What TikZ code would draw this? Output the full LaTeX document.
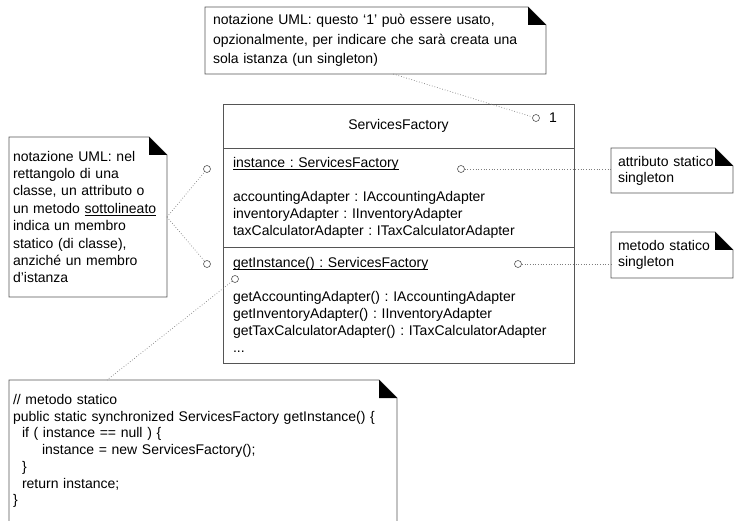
\documentclass[tikz,border=0pt]{standalone}
\usepackage{fontspec}
\setmainfont{Liberation Sans}
\usepackage{tikz}
\usetikzlibrary{positioning}
\usepackage{xcolor}
\definecolor{umlgray}{RGB}{85,85,85}
\definecolor{dotgray}{RGB}{125,125,125}
\frenchspacing

% underline at a fixed depth, as for static members
\newcommand{\staticul}[1]{\setbox0=\hbox{#1}\rlap{\rule[-2.5bp]{\wd0}{0.7bp}}\box0}
% note outline with the folded (black) corner
\newcommand{\notefold}[1]{%
  \draw[noteline] (#1.north west) -- ([xshift=-18bp]#1.north east)
    -- ([yshift=-18bp]#1.north east) -- (#1.south east) -- (#1.south west) -- cycle;
  \fill[black] ([xshift=-18bp]#1.north east) -- ([xshift=-18bp,yshift=-18bp]#1.north east)
    -- ([yshift=-18bp]#1.north east) -- cycle;}

\begin{document}
\begin{tikzpicture}[
      x=1bp, y=-1bp,
      every node/.style={font=\fontsize{14bp}{17bp}\selectfont},
      compart/.style={draw=umlgray, line width=0.9bp, outer sep=0pt,
                  text width=331bp, inner xsep=10bp, inner ysep=0pt,
                  align=left},
      note/.style={anchor=north west, align=left, inner ysep=0pt,
                  outer sep=0pt},
      noteline/.style={draw=umlgray, line width=0.9bp},
      dotend/.style={circle, draw=umlgray, fill=white, line width=0.6bp,
                  inner sep=0pt, minimum size=7bp},
      conn/.style={draw=dotgray, dotted, line width=0.7bp}
    ]
    \useasboundingbox (0,0) rectangle (739,521);
    % the class
    \node[compart, align=center, minimum height=44bp] (cname) at (398.5,126)
      {ServicesFactory};
    \node[compart, below=0pt of cname, minimum height=99bp] (cattr)
      {\staticul{instance : ServicesFactory}\\[17bp]
       accountingAdapter : IAccountingAdapter\\
       inventoryAdapter : IInventoryAdapter\\
       taxCalculatorAdapter : ITaxCalculatorAdapter};
    \node[compart, below=0pt of cattr, minimum height=116bp] (cmeth)
      {\staticul{getInstance() : ServicesFactory}\\[17bp]
       getAccountingAdapter() : IAccountingAdapter\\
       getInventoryAdapter() : IInventoryAdapter\\
       getTaxCalculatorAdapter() : ITaxCalculatorAdapter\\
       ...};
    % notes
    \node[note, text width=325bp, inner xsep=8bp, minimum height=67bp,
          font=\fontsize{14bp}{19.5bp}\selectfont] (singlenote) at (205,7)
      {notazione UML: questo ‘1’ può essere usato,\\
       opzionalmente, per indicare che sarà creata una\\
       sola istanza (un singleton)};
    \node[note, text width=150bp, inner xsep=4bp, minimum height=160bp,
          font=\fontsize{14bp}{17.4bp}\selectfont] (staticnote) at (9,137)
      {notazione UML: nel\\
       rettangolo di una\\
       classe, un attributo o\\
       un metodo \staticul{sottolineato}\\
       indica un membro\\
       statico (di classe),\\
       anziché un membro\\
       d’istanza};
    \node[note, text width=108bp, inner xsep=7bp, minimum height=45bp,
          font=\fontsize{14bp}{16bp}\selectfont] (attrnote) at (611,148)
      {attributo statico\\ singleton};
    \node[note, text width=108bp, inner xsep=7bp, minimum height=46bp,
          font=\fontsize{14bp}{16bp}\selectfont] (methnote) at (611,232)
      {metodo statico\\ singleton};
    \node[note, text width=380bp, inner xsep=4bp, minimum height=142bp,
          font=\fontsize{14bp}{16.7bp}\selectfont] (codenote) at (9,380)
      {// metodo statico\\
       public static synchronized ServicesFactory getInstance() \{\\
       \hspace*{9bp}if ( instance == null ) \{\\
       \hspace*{29bp}instance = new ServicesFactory();\\
       \hspace*{9bp}\}\\
       \hspace*{9bp}return instance;\\
       \}};
    \notefold{singlenote}
    \notefold{staticnote}
    \notefold{attrnote}
    \notefold{methnote}
    \notefold{codenote}
    % anchor circles
    \node[dotend] (multdot) at (536,118) {};
    \node[right=8bp of multdot, inner sep=1bp] (multnum) {1};
    \node[dotend] (attrdot) at (461,169) {};
    \node[dotend] (methdot) at (518,264) {};
    \node[dotend] (ulattrdot) at (207,169) {};
    \node[dotend] (ulmethdot) at (207,264) {};
    \node[dotend] (codedot) at (235,279) {};
    % dotted note links
    \draw[conn] (singlenote.-62) -- (multdot);
    \draw[conn] (attrdot) -- (attrdot -| attrnote.west);
    \draw[conn] (methdot) -- (methdot -| methnote.west);
    \draw[conn] (staticnote.east) -- (ulattrdot);
    \draw[conn] (staticnote.east) -- (ulmethdot);
    \draw[conn] (codedot) -- ([xshift=98bp]codenote.north west);
  \end{tikzpicture}
\end{document}
